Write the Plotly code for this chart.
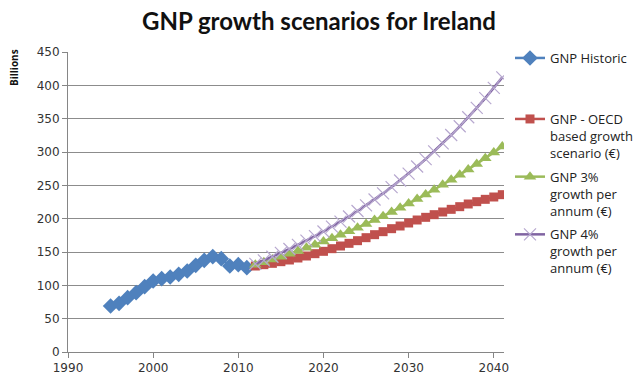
import plotly.graph_objects as go

# Historic GNP (billions)
hist_years = list(range(1995, 2012))
hist_gnp = [69, 73, 81.5, 89, 98, 106.5, 110, 112.5, 116.5, 121.5,
            130, 137.5, 143, 140, 129, 131, 126.5]

# Projection years
proj_years = list(range(2012, 2042))

# OECD-based growth scenario
oecd_gnp = [129, 131, 133, 135.5, 138, 141, 144, 147.5, 151, 155,
            159, 163, 167, 171.5, 176, 180.5, 185, 189, 193.5, 198,
            202, 206, 210, 214, 218, 222, 225.5, 229, 232.5, 236]

# 3% growth per annum
g3_gnp = [130.8, 134.7, 138.8, 142.9, 147.2, 151.6, 156.2, 160.9, 165.7, 170.7,
          175.8, 181.1, 186.5, 192.1, 197.9, 203.8, 209.9, 216.2, 222.7, 229.4,
          236.3, 243.4, 250.7, 258.2, 265.9, 273.9, 282.1, 290.6, 299.3, 308.3]

# 4% growth per annum
g4_gnp = [132.1, 137.4, 142.9, 148.6, 154.5, 160.7, 167.1, 173.8, 180.8, 188.0,
          195.5, 203.3, 211.5, 219.9, 228.7, 237.9, 247.4, 257.3, 267.6, 278.3,
          289.4, 301.0, 313.0, 325.5, 338.6, 352.1, 366.2, 380.8, 396.1, 411.9]

x_ticks = [1990, 2000, 2010, 2020, 2030, 2040]
y_ticks = [0, 50, 100, 150, 200, 250, 300, 350, 400, 450]

BLUE = "#4F81BD"
RED = "#C0504D"
GREEN = "#9BBB59"
PURPLE = "#8064A2"
LILAC = "#B7A8CF"

W, H = 635, 378

fig = go.Figure()

fig.add_trace(go.Scatter(
    x=hist_years, y=hist_gnp, name="GNP Historic", mode="lines+markers",
    line=dict(color=BLUE, width=2.5),
    marker=dict(symbol="diamond", size=12, color=BLUE),
    legend="legend",
))
fig.add_trace(go.Scatter(
    x=proj_years, y=oecd_gnp, name="GNP - OECD<br>based growth<br>scenario (€)",
    mode="lines+markers",
    line=dict(color=RED, width=2.5),
    marker=dict(symbol="square", size=9, color=RED),
    legend="legend2", legendgroup="oecd",
))
fig.add_trace(go.Scatter(
    x=proj_years, y=g3_gnp, name="GNP 3%<br>growth per<br>annum (€)",
    mode="lines+markers",
    line=dict(color=GREEN, width=2.5),
    marker=dict(symbol="triangle-up", size=11, color=GREEN),
    legend="legend2", legendgroup="g3",
))
fig.add_trace(go.Scatter(
    x=proj_years, y=g4_gnp, name="GNP 4%<br>growth per<br>annum (€)",
    mode="lines+markers",
    line=dict(color=PURPLE, width=2.5),
    marker=dict(symbol="x-thin-open", size=12, color=LILAC,
                line=dict(color=LILAC, width=1.2)),
    legend="legend2", legendgroup="g4",
))

legend_font = dict(family="Open Sans", size=13, color="#222222")

fig.update_layout(
    width=W, height=H,
    margin=dict(l=68, r=131, t=52, b=26),
    paper_bgcolor="white", plot_bgcolor="white",
    title=dict(text="<b>GNP growth scenarios for Ireland</b>",
               font=dict(family="Lato", size=24, color="#111111"),
               xref="container", x=319 / W, xanchor="center",
               yref="container", y=1 - 22 / H, yanchor="middle"),
    showlegend=True,
    legend=dict(xref="container", yref="container",
                x=510 / W, xanchor="left", y=1 - 43 / H, yanchor="top",
                font=legend_font, bgcolor="rgba(0,0,0,0)",
                itemwidth=30, tracegroupgap=0, valign="top"),
    legend2=dict(xref="container", yref="container",
                 x=510 / W, xanchor="left", y=1 - 104 / H, yanchor="top",
                 font=legend_font, bgcolor="rgba(0,0,0,0)",
                 itemwidth=30, tracegroupgap=4, valign="top"),
    xaxis=dict(range=[1990, 2041.2], tickvals=x_ticks, automargin=False,
               showgrid=False, zeroline=False,
               showline=True, linecolor="#868686", linewidth=1,
               ticks="outside", ticklen=5, tickcolor="#868686",
               tickfont=dict(family="DejaVu Sans", size=12, color="#333333")),
    yaxis=dict(range=[0, 450], tickvals=y_ticks, automargin=False,
               showgrid=True, gridcolor="#8C8C8C", gridwidth=1,
               zeroline=False,
               showline=True, linecolor="#868686", linewidth=1,
               ticks="outside", ticklen=5, tickcolor="#868686",
               tickfont=dict(family="DejaVu Sans", size=12, color="#333333")),
    annotations=[dict(text="<b>Billions</b>", textangle=-90,
                      xref="paper", yref="paper",
                      x=-54 / 436, y=(352 - 68) / 300,
                      xanchor="center", yanchor="middle", showarrow=False,
                      font=dict(family="Open Sans", size=10, color="#111111"))],
)

fig.write_html("out.html")
